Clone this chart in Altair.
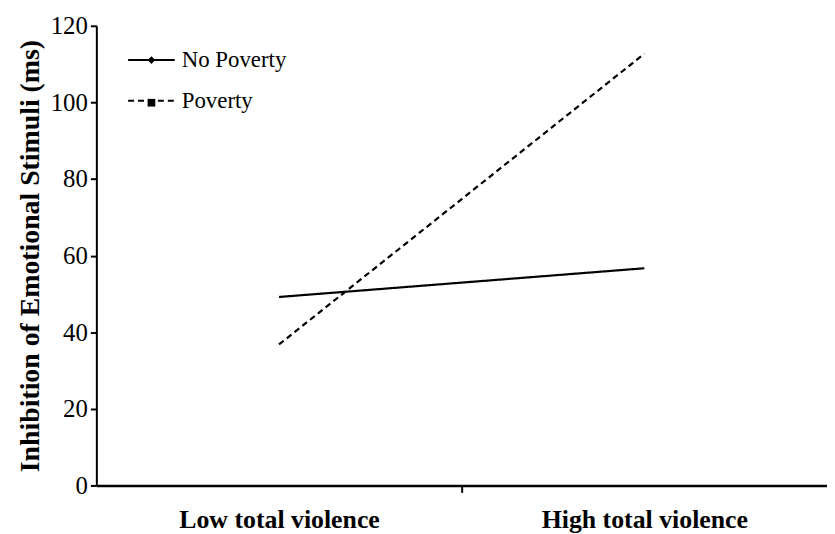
import altair as alt
import pandas as pd

categories = ["Low total violence", "High total violence"]
series = ["No Poverty", "Poverty"]
no_poverty = [49.2, 56.7]
poverty = [36.8, 112.7]
y_ticks = [0, 20, 40, 60, 80, 100, 120]

rows = []
for name, vals in zip(series, [no_poverty, poverty]):
    for cat, v in zip(categories, vals):
        rows.append({"group": name, "cond": cat, "value": v})
df = pd.DataFrame(rows)

FONT = "Liberation Serif"
cat_js = "['" + "','".join(categories) + "']"
marker_domain = [s + " " for s in series]

x_enc = alt.X("pos:Q", scale=alt.Scale(domain=[0, 2], nice=False),
              axis=alt.Axis(values=[0.5, 1, 1.5], title=None, grid=False,
                            labelExpr=f"datum.value == 0.5 ? '{categories[0]}' : datum.value == 1.5 ? '{categories[1]}' : ''",
                            tickOpacity={"condition": {"test": "datum.value == 1", "value": 1}, "value": 0},
                            tickSize=7, tickWidth=2, tickColor="black",
                            domainColor="black", domainWidth=2.5,
                            labelFont=FONT, labelFontSize=26, labelFontWeight="bold",
                            labelColor="black", labelPadding=14, labelLimit=500))
y_enc = alt.Y("value:Q", scale=alt.Scale(domain=[0, 120], nice=False),
              axis=alt.Axis(values=y_ticks, title="Inhibition of Emotional Stimuli (ms)",
                            grid=False, tickSize=6, tickWidth=2, tickColor="black",
                            domainColor="black", domainWidth=2,
                            labelFont=FONT, labelFontSize=25, labelColor="black",
                            labelPadding=3,
                            titleFont=FONT, titleFontSize=28, titleFontWeight="bold",
                            titleColor="black", titlePadding=6, titleLimit=600))

# legend A: line samples + labels
dash_enc = alt.StrokeDash("group:N",
    scale=alt.Scale(domain=series, range=[[1, 0], [6, 4]]),
    legend=alt.Legend(title=None, orient="none", legendX=31, legendY=10,
                      symbolType="M-1,0L1,0", symbolSize=2209,
                      symbolStrokeColor="black", symbolStrokeWidth=2,
                      labelFont=FONT, labelFontSize=23, labelColor="black",
                      labelOffset=6, rowPadding=4, padding=0))
# legend B: markers only, overlaid on legend A
shape_enc = alt.Shape("marker:N",
    scale=alt.Scale(domain=marker_domain, range=["diamond", "square"]),
    legend=alt.Legend(title=None, orient="none", legendX=51, legendY=30,
                      symbolSize=60, symbolFillColor="black",
                      symbolStrokeColor="black", symbolStrokeWidth=1,
                      labelExpr="''", labelFontSize=1, labelOffset=0,
                      rowPadding=30, padding=0))

base = alt.Chart(df).transform_calculate(
    pos=f"indexof({cat_js}, datum.cond) + 0.5",
    marker="datum.group + ' '",
)

lines = base.mark_line(color="black", strokeWidth=2.2).encode(
    x=x_enc, y=y_enc, strokeDash=dash_enc, detail="group:N",
)

legend_pts = base.transform_filter("false").mark_point(
    filled=True, color="black", size=60, opacity=1
).encode(x=x_enc, y=y_enc, shape=shape_enc)

chart = alt.layer(lines, legend_pts).properties(
    width=736, height=463,
    padding={"left": 89, "top": 16, "right": 0, "bottom": 47},
    autosize=alt.AutoSizeParams(type="none"),
).configure_view(stroke=None)

chart.save("out.html", embed_options={"renderer": "svg", "actions": False})
